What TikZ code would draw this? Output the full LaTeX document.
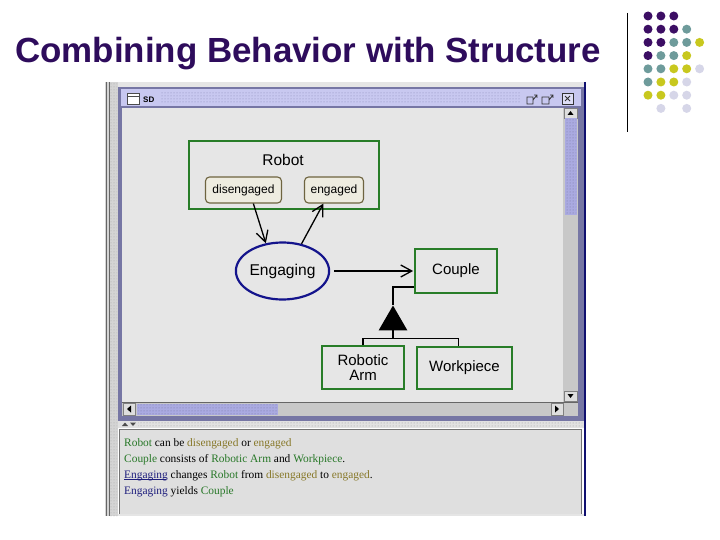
\documentclass[tikz,border=0pt]{standalone}
\usepackage{fontspec}
\setmainfont{Liberation Sans}
\newfontfamily\panelfont{Liberation Serif}
\usetikzlibrary{arrows.meta,shapes.geometric,patterns}
\definecolor{titlepurple}{RGB}{46,12,92}
\definecolor{dotP}{RGB}{60,14,100}
\definecolor{dotT}{RGB}{110,155,155}
\definecolor{dotY}{RGB}{200,200,30}
\definecolor{dotL}{RGB}{214,214,232}
\definecolor{dotN}{RGB}{255,255,255}
\definecolor{boxgreen}{RGB}{40,125,40}
\definecolor{stateolive}{RGB}{110,100,64}
\definecolor{statefill}{RGB}{238,236,224}
\definecolor{ellblue}{RGB}{20,20,140}
\definecolor{canvasgray}{RGB}{230,230,230}
\definecolor{framepurple}{RGB}{118,118,164}
\definecolor{barlav}{RGB}{200,200,240}
\definecolor{thumblav}{RGB}{170,170,225}
\definecolor{sbgray}{RGB}{200,200,200}
\definecolor{btngray}{RGB}{222,222,222}
\definecolor{stripgray}{RGB}{212,212,212}
\definecolor{txtgreen}{RGB}{40,120,40}
\definecolor{txtolive}{RGB}{135,120,40}
\definecolor{txtblue}{RGB}{30,30,125}
\tikzset{
  classbox/.style={draw=boxgreen, line width=1.8pt, fill=canvasgray, font=\fontsize{15}{17}\selectfont, align=center, inner sep=0pt},
  statebox/.style={draw=stateolive, line width=1.1pt, fill=statefill, rounded corners=4pt, font=\fontsize{12}{14}\selectfont, inner sep=0pt, minimum height=26pt},
  procell/.style={ellipse, draw=ellblue, line width=2.2pt, fill=canvasgray, font=\fontsize{15.6}{17}\selectfont, inner sep=0pt, minimum width=93pt, minimum height=57pt},
  openarr/.style={line width=1.3pt, -{Straight Barb[length=11pt,width=12pt,line width=1.3pt]}},
  aggline/.style={line width=1.6pt},
  ptxt/.style={anchor=base west, inner sep=0pt, font=\panelfont\fontsize{11.4}{13}\selectfont},
}
\begin{document}
\begin{tikzpicture}[x=1pt,y=-1pt]
\useasboundingbox (0,0) rectangle (720,540);
\fill[white] (0,0) rectangle (720,540);
% title
\node[anchor=base west, inner sep=0pt, text=titlepurple, font=\bfseries\fontsize{34.9}{40}\selectfont] (title) at (15,63) {Combining Behavior with Structure};
% vertical rule and dots
\draw[line width=1pt, black] (627,13) -- (627,132);
\foreach \cl [count=\r from 0] in {{P,P,P},{P,P,P,T},{P,P,T,T,Y},{P,T,T,Y},{T,T,Y,Y,L},{T,Y,Y,L},{Y,Y,L,L},{N,L,N,L}}{
  \foreach \k [count=\c from 0] in \cl {
      \fill[dot\k] (648+12.9*\c, 16+13.2*\r) circle (4.5);
  }
}
% screenshot: left strip
\fill[stripgray] (105,82) rectangle (118,516);
\fill[pattern=dots, pattern color=gray!70] (110,82) rectangle (117,516);
\draw[gray!80!black, line width=0.6pt] (106,82) -- (106,516);
\draw[gray!80!black, line width=0.6pt] (109,82) -- (109,516);
\fill[stripgray!60] (118,82) rectangle (586,87);
% window frame
\fill[framepurple] (118,87) rectangle (584,421);
\fill[barlav] (121,89) rectangle (581,106);
\fill[pattern=dots, pattern color=thumblav!80!black] (160,91) rectangle (520,104);
% title bar icons
\draw[fill=white, draw=black!70, line width=0.8pt] (127,93) rectangle (139,104);
\draw[black!70, line width=0.8pt] (127,96) -- (139,96);
\node[anchor=west, inner sep=0pt, font=\bfseries\fontsize{8}{9}\selectfont] (sd) at (143,99.5) {SD};
\draw[black!80, line width=0.8pt] (527,97) rectangle (533,104) (533,100) -- (537,95) (534,95) -- (537,95) -- (537,98);
\draw[black!80, line width=0.8pt] (542,97) rectangle (549,104) (549,100) -- (553,95) (550,95) -- (553,95) -- (553,98);
\draw[black!80, fill=barlav!60, line width=0.8pt] (562,93) rectangle (573,104);
\draw[black!80, line width=0.8pt] (565,96) -- (570,101) (565,101) -- (570,96);
% canvas
\fill[canvasgray] (122,108) rectangle (563,402);
% vertical scrollbar
\fill[sbgray] (563,108) rectangle (578,402);
\draw[black!50, fill=btngray] (564,108) rectangle (577,118);
\fill[black] (567.5,115) -- (573.5,115) -- (570.5,111) -- cycle;
\fill[thumblav] (564.5,118.5) rectangle (576.5,215);
\fill[pattern=dots, pattern color=thumblav!70!black] (565,119) rectangle (576,214);
\draw[black!50, fill=btngray] (564,391) rectangle (577,401);
\fill[black] (567.5,394) -- (573.5,394) -- (570.5,398) -- cycle;
% horizontal scrollbar
\fill[sbgray] (122,402) rectangle (578,416);
\draw[black!50, fill=btngray] (123,403) rectangle (135,415);
\fill[black] (131,405.5) -- (131,412.5) -- (127,409) -- cycle;
\fill[thumblav] (137,403.5) rectangle (278,414.5);
\fill[pattern=dots, pattern color=thumblav!70!black] (138,404) rectangle (277,414);
\draw[black!50, fill=btngray] (551,403) rectangle (563,415);
\fill[black] (555,405.5) -- (555,412.5) -- (559,409) -- cycle;
\draw[black!60, line width=0.6pt] (122,402) -- (578,402);
% divider
\fill[stripgray!70] (118,421) rectangle (584,428);
\fill[pattern=dots, pattern color=gray!80] (138,422) rectangle (582,427);
\fill[black!70] (122,426) -- (128,426) -- (125,422.5) -- cycle;
\fill[black!70] (130,422.5) -- (136,422.5) -- (133,426) -- cycle;
% text panel
\draw[fill=canvasgray!97!black, draw=black!55, line width=0.8pt] (119.5,429.5) rectangle (581.5,514);
\fill[stripgray!60] (118,514) rectangle (584,516);
\draw[ellblue!80!black, line width=1.4pt] (585,82) -- (585,516);
% panel text
\node[ptxt] (l1) at (124,446) {\textcolor{txtgreen}{Robot} can be \textcolor{txtolive}{disengaged} or \textcolor{txtolive}{engaged}};
\node[ptxt] (l2) at (124,462) {\textcolor{txtgreen}{Couple} consists of \textcolor{txtgreen}{Robotic Arm} and \textcolor{txtgreen}{Workpiece}.};
\node[ptxt] (l3) at (124,478) {\textcolor{txtblue}{Engaging} changes \textcolor{txtgreen}{Robot} from \textcolor{txtolive}{disengaged} to \textcolor{txtolive}{engaged}.};
\draw[txtblue, line width=0.6pt] (124,479.5) -- (166,479.5);
\node[ptxt] (l4) at (124,494) {\textcolor{txtblue}{Engaging} yields \textcolor{txtgreen}{Couple}};
% diagram
\node[classbox, minimum width=190pt, minimum height=68pt] (robot) at (284,175) {};
\node[inner sep=0pt, font=\fontsize{15.5}{17}\selectfont] (robotlbl) at (283,159.5) {Robot};
\node[statebox, minimum width=76pt] (dis) at (243.5,190) {disengaged};
\node[statebox, minimum width=59pt] (engd) at (334,190) {engaged};
\node[procell] (eng) at (282.5,271) {Engaging};
\node[classbox, minimum width=82pt, minimum height=44pt] (couple) at (456,271) {Couple};
\node[classbox, minimum width=82pt, minimum height=43pt, font=\fontsize{15}{15.5}\selectfont] (arm) at (363,367.5) {Robotic\\Arm};
\node[classbox, minimum width=95pt, minimum height=42pt] (work) at (464.5,368) {Workpiece};
\node[regular polygon, regular polygon sides=3, fill=black, inner sep=0pt, minimum size=33pt] (tri) at (393,322) {};
% connectors
\draw[openarr] (dis.306) -- (eng.121);
\draw[openarr] (eng.55) -- (engd.232);
\draw[openarr, shorten <=4pt, shorten >=1pt] (eng.east) -- (couple.west);
\draw[aggline] ([yshift=7pt]couple.south west) -| (tri.corner 1);
\draw[aggline] (tri.south) -- ++(0,8) coordinate (j);
\draw[aggline] (j) -| (arm.north);
\draw[aggline] (j) -| ([xshift=-6pt]work.north);
\end{tikzpicture}
\end{document}
